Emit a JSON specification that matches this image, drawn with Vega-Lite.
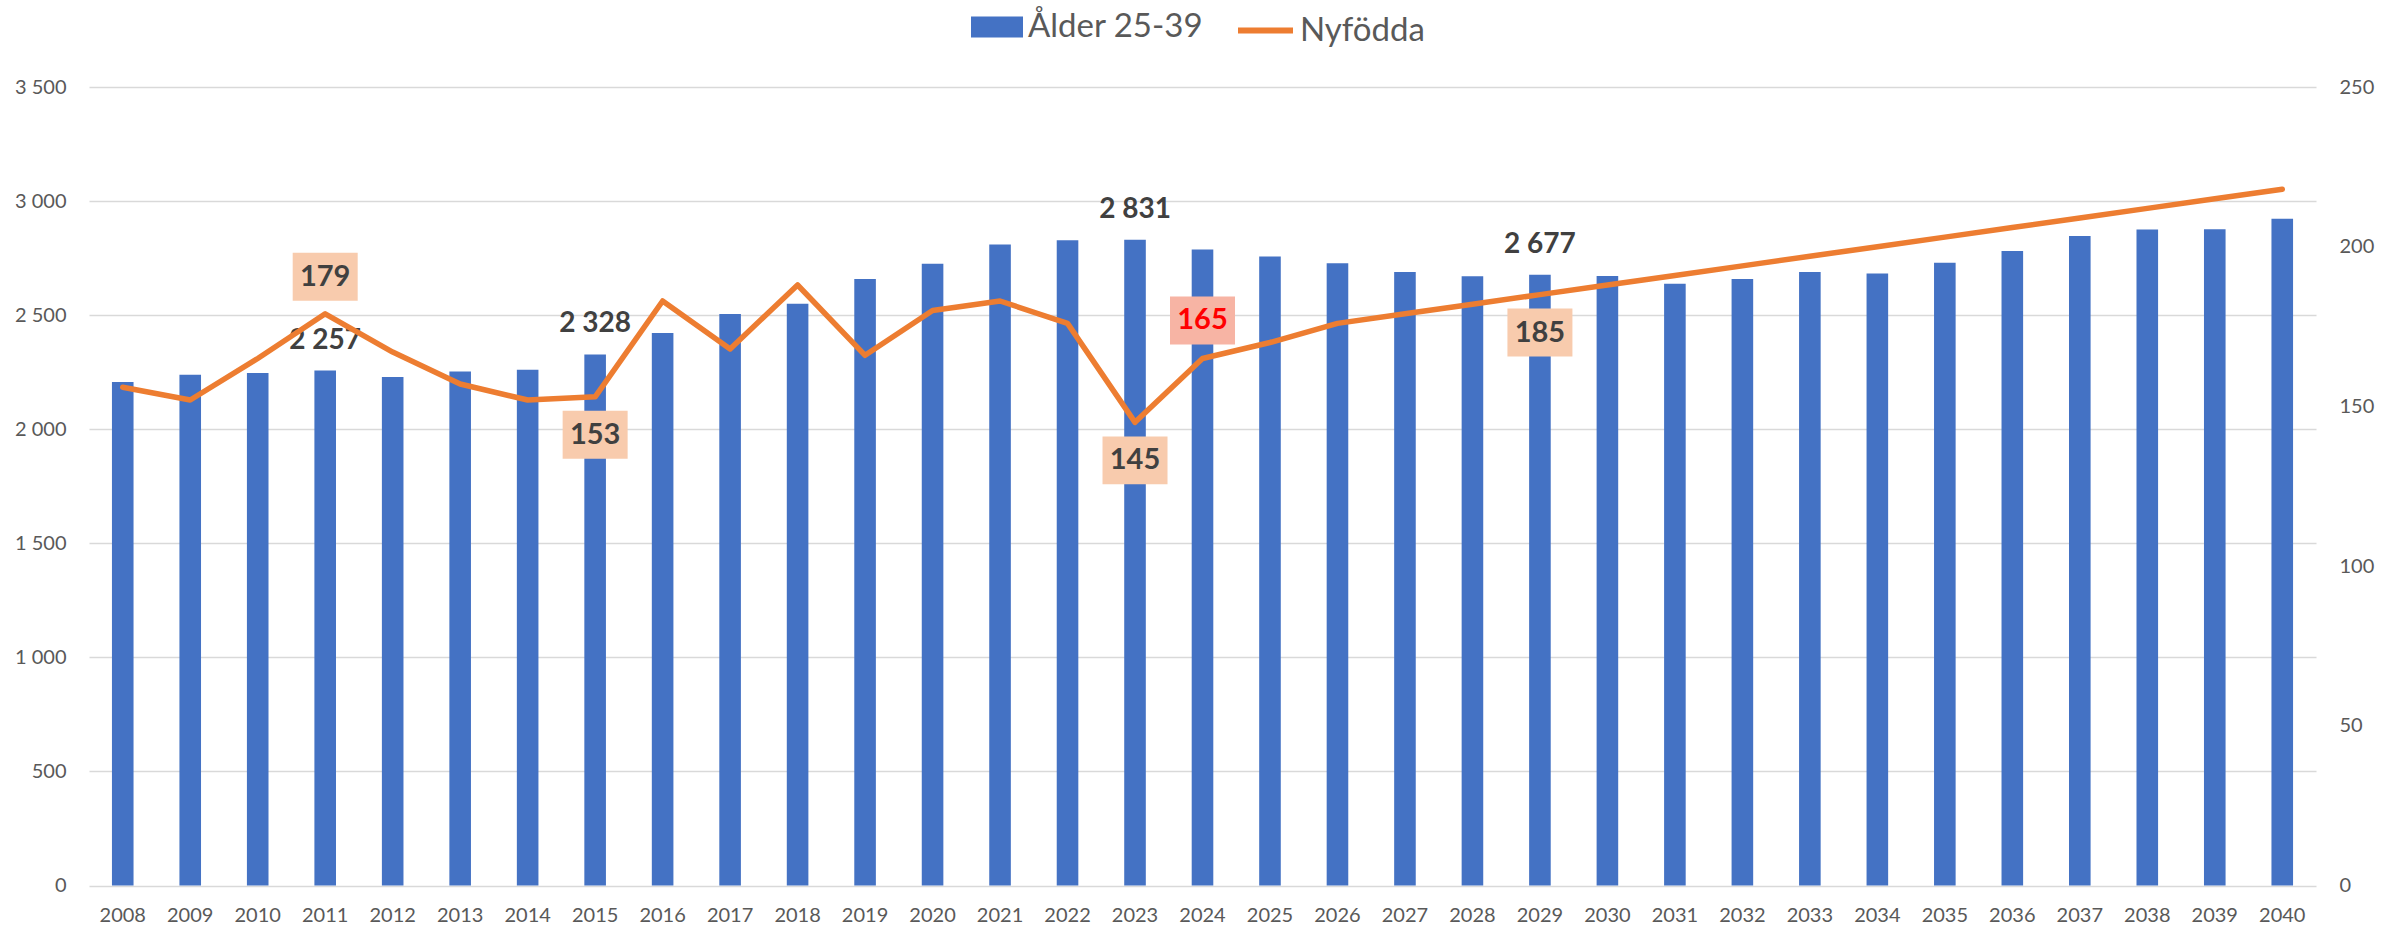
{
  "$schema": "https://vega.github.io/schema/vega-lite/v6.json",
  "autosize": {"type": "none"},
  "width": 2227,
  "height": 798.5,
  "padding": {"left": 89, "top": 87, "right": 86, "bottom": 44.5},
  "background": "white",
  "config": {
    "font": "Lato",
    "view": {"stroke": null},
    "locale": {"number": {"decimal": ",", "thousands": " ", "grouping": [3], "currency": ["", " kr"]}}
  },
  "data": {
    "values": [
      {"year": 2008, "alder": 2207, "nyfodda": 156},
      {"year": 2009, "alder": 2239, "nyfodda": 152},
      {"year": 2010, "alder": 2246, "nyfodda": 165},
      {"year": 2011, "alder": 2257, "nyfodda": 179},
      {"year": 2012, "alder": 2229, "nyfodda": 167},
      {"year": 2013, "alder": 2253, "nyfodda": 157},
      {"year": 2014, "alder": 2261, "nyfodda": 152},
      {"year": 2015, "alder": 2328, "nyfodda": 153},
      {"year": 2016, "alder": 2422, "nyfodda": 183},
      {"year": 2017, "alder": 2505, "nyfodda": 168},
      {"year": 2018, "alder": 2550, "nyfodda": 188},
      {"year": 2019, "alder": 2658, "nyfodda": 166},
      {"year": 2020, "alder": 2725, "nyfodda": 180},
      {"year": 2021, "alder": 2810, "nyfodda": 183},
      {"year": 2022, "alder": 2828, "nyfodda": 176},
      {"year": 2023, "alder": 2831, "nyfodda": 145},
      {"year": 2024, "alder": 2788, "nyfodda": 165},
      {"year": 2025, "alder": 2757, "nyfodda": 170},
      {"year": 2026, "alder": 2728, "nyfodda": 176},
      {"year": 2027, "alder": 2689, "nyfodda": 179},
      {"year": 2028, "alder": 2670, "nyfodda": 182},
      {"year": 2029, "alder": 2677, "nyfodda": 185},
      {"year": 2030, "alder": 2672, "nyfodda": 188},
      {"year": 2031, "alder": 2638, "nyfodda": 191},
      {"year": 2032, "alder": 2658, "nyfodda": 194},
      {"year": 2033, "alder": 2689, "nyfodda": 197},
      {"year": 2034, "alder": 2683, "nyfodda": 200},
      {"year": 2035, "alder": 2730, "nyfodda": 203},
      {"year": 2036, "alder": 2781, "nyfodda": 206},
      {"year": 2037, "alder": 2847, "nyfodda": 209},
      {"year": 2038, "alder": 2875, "nyfodda": 212},
      {"year": 2039, "alder": 2877, "nyfodda": 215},
      {"year": 2040, "alder": 2923, "nyfodda": 218}
    ]
  },
  "encoding": {
    "x": {
      "field": "year",
      "type": "ordinal",
      "scale": {"type": "band", "paddingInner": 0.68, "paddingOuter": 0.34},
      "axis": {
        "title": null,
        "labelAngle": 0,
        "domain": false,
        "ticks": false,
        "tickSize": 0,
        "labelPadding": 20,
        "labelFontSize": 20,
        "labelColor": "#595959",
        "labelFont": "Lato"
      }
    }
  },
  "layer": [
    {
      "encoding": {
        "y": {
          "field": "alder",
          "type": "quantitative",
          "scale": {"domain": [0, 3500], "nice": false, "zero": true},
          "axis": {
            "orient": "left",
            "title": null,
            "values": [0, 500, 1000, 1500, 2000, 2500, 3000, 3500],
            "format": ",.0f",
            "grid": true,
            "gridColor": "#D9D9D9",
            "gridWidth": 1.5,
            "domain": false,
            "ticks": false,
            "tickSize": 0,
            "labelPadding": 23,
            "labelFontSize": 20,
            "labelColor": "#595959",
            "labelFont": "Lato"
          }
        }
      },
      "layer": [
        {
          "mark": {"type": "bar"},
          "encoding": {
            "fill": {
              "datum": "Ålder 25-39",
              "type": "nominal",
              "scale": {"range": ["#4472C4"]},
              "legend": {
                "orient": "none",
                "legendX": 882,
                "legendY": -86,
                "title": null,
                "padding": 0,
                "symbolType": "M-1,-0.4H1V0.4H-1Z",
                "symbolSize": 2704,
                "symbolStrokeWidth": 0,
                "labelFontSize": 33,
                "labelLimit": 500,
                "labelColor": "#595959",
                "labelFont": "Lato",
                "labelOffset": 5
              }
            }
          }
        },
        {
          "transform": [{"filter": {"field": "year", "oneOf": [2011, 2015, 2023, 2029]}}],
          "mark": {"type": "text", "fontWeight": "bold", "fontSize": 28, "color": "#404040", "baseline": "middle", "dy": -30},
          "encoding": {
            "text": {"field": "alder", "type": "quantitative", "format": ",.0f"}
          }
        }
      ]
    },
    {
      "encoding": {
        "y": {
          "field": "nyfodda",
          "type": "quantitative",
          "scale": {"domain": [0, 250], "nice": false, "zero": true},
          "axis": {
            "orient": "right",
            "title": null,
            "values": [0, 50, 100, 150, 200, 250],
            "grid": false,
            "domain": false,
            "ticks": false,
            "tickSize": 0,
            "labelPadding": 23,
            "labelFontSize": 20,
            "labelColor": "#595959",
            "labelFont": "Lato"
          }
        }
      },
      "layer": [
        {
          "mark": {"type": "line", "strokeWidth": 5.5, "strokeCap": "round", "strokeJoin": "round"},
          "encoding": {
            "stroke": {
              "datum": "Nyfödda",
              "type": "nominal",
              "scale": {"range": ["#ED7D31"]},
              "legend": {
                "orient": "none",
                "legendX": 1146,
                "legendY": -87,
                "title": null,
                "padding": 0,
                "symbolType": "stroke",
                "symbolSize": 3025,
                "symbolStrokeWidth": 6,
                "labelFontSize": 33,
                "labelLimit": 500,
                "labelColor": "#595959",
                "labelFont": "Lato",
                "labelOffset": 4
              }
            }
          }
        },
        {
          "transform": [{"filter": {"field": "year", "oneOf": [2011]}}],
          "mark": {"type": "point", "shape": "M-1,-0.738H1V0.738H-1Z", "size": 4225, "filled": true, "color": "#F8CBAD", "opacity": 1, "yOffset": -37}
        },
        {
          "transform": [{"filter": {"field": "year", "oneOf": [2015, 2023, 2029]}}],
          "mark": {"type": "point", "shape": "M-1,-0.738H1V0.738H-1Z", "size": 4225, "filled": true, "color": "#F8CBAD", "opacity": 1, "yOffset": 38}
        },
        {
          "transform": [{"filter": {"field": "year", "oneOf": [2024]}}],
          "mark": {"type": "point", "shape": "M-1,-0.738H1V0.738H-1Z", "size": 4225, "filled": true, "color": "#F7B4A4", "opacity": 1, "yOffset": -38}
        },
        {
          "transform": [{"filter": {"field": "year", "oneOf": [2011]}}],
          "mark": {"type": "text", "fontWeight": "bold", "fontSize": 29, "color": "#404040", "baseline": "middle", "dy": -37},
          "encoding": {"text": {"field": "nyfodda", "type": "quantitative"}}
        },
        {
          "transform": [{"filter": {"field": "year", "oneOf": [2015, 2023, 2029]}}],
          "mark": {"type": "text", "fontWeight": "bold", "fontSize": 29, "color": "#404040", "baseline": "middle", "dy": 38},
          "encoding": {"text": {"field": "nyfodda", "type": "quantitative"}}
        },
        {
          "transform": [{"filter": {"field": "year", "oneOf": [2024]}}],
          "mark": {"type": "text", "fontWeight": "bold", "fontSize": 29, "color": "#FF0000", "baseline": "middle", "dy": -38},
          "encoding": {"text": {"field": "nyfodda", "type": "quantitative"}}
        }
      ]
    }
  ],
  "resolve": {"scale": {"y": "independent"}}
}
